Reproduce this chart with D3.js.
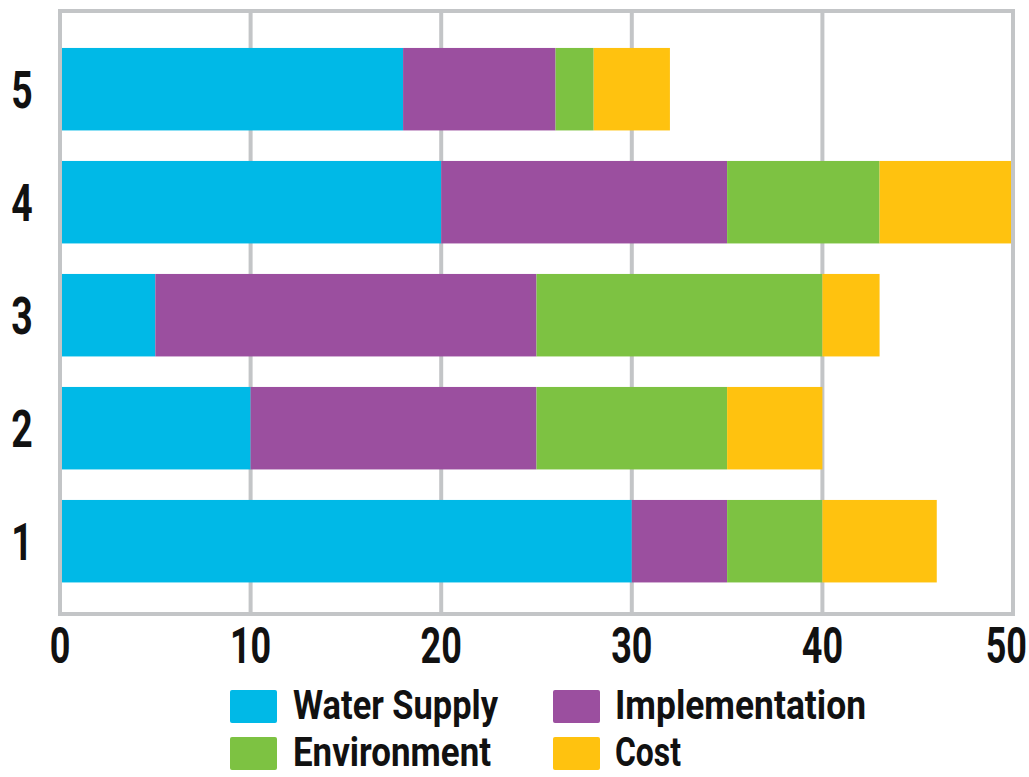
<!DOCTYPE html>
<html>
<head>
<meta charset="utf-8">
<script src="https://cdn.jsdelivr.net/npm/d3@7"></script>
<style>
  body { margin: 0; background: #fff; }
  text { font-family: "Liberation Sans Narrow", "Roboto", sans-serif; font-weight: bold; fill: #111; }
</style>
</head>
<body>
<svg width="1029" height="777"></svg>
<script>
// data
var categories = ["5", "4", "3", "2", "1"];
var seriesNames = ["Water Supply", "Implementation", "Environment", "Cost"];
var waterSupply    = [18, 20, 5, 10, 30];
var implementation = [8, 15, 20, 15, 5];
var environment    = [2, 8, 15, 10, 5];
var cost           = [4, 7, 3, 5, 6];
var xTicks = [0, 10, 20, 30, 40, 50];
var colors = ["#00b9e7", "#9b4f9f", "#7dc242", "#ffc20f"];

// build rows for the stack
var rows = categories.map(function (c, i) {
  return {
    cat: c,
    "Water Supply": waterSupply[i],
    "Implementation": implementation[i],
    "Environment": environment[i],
    "Cost": cost[i]
  };
});

var svg = d3.select("svg");

var x = d3.scaleLinear()
  .domain([0, 50])
  .range([60, 1013]);

var y = d3.scaleBand()
  .domain(categories)
  .range([32.7, 597.7])
  .paddingInner(0.27)
  .paddingOuter(0.135);

var color = d3.scaleOrdinal()
  .domain(seriesNames)
  .range(colors);

var plotTop = 11, plotBottom = 614;
var squeeze = 0.72; // labels in the picture are a condensed face

// grid lines behind the bars
svg.selectAll("line.grid")
  .data(xTicks.slice(1, -1))
  .enter()
  .append("line")
  .attr("class", "grid")
  .attr("x1", function (d) { return x(d); })
  .attr("x2", function (d) { return x(d); })
  .attr("y1", plotTop)
  .attr("y2", plotBottom)
  .attr("stroke", "#c3c5c7")
  .attr("stroke-width", 4);

// stacked bars
var stack = d3.stack().keys(seriesNames);
var layers = stack(rows);

svg.selectAll("g.layer")
  .data(layers)
  .enter()
  .append("g")
  .attr("class", "layer")
  .attr("fill", function (d) { return color(d.key); })
  .selectAll("rect")
  .data(function (d) { return d; })
  .enter()
  .append("rect")
  .attr("x", function (d) { return x(d[0]); })
  .attr("width", function (d) { return x(d[1]) - x(d[0]); })
  .attr("y", function (d) { return y(d.data.cat); })
  .attr("height", y.bandwidth());

// frame round the plot
svg.append("rect")
  .attr("x", x(0))
  .attr("y", plotTop)
  .attr("width", x(50) - x(0))
  .attr("height", plotBottom - plotTop)
  .attr("fill", "none")
  .attr("stroke", "#c3c5c7")
  .attr("stroke-width", 4);

// x tick labels (last one pulled in so it stays on the page)
svg.selectAll("text.xtick")
  .data(xTicks)
  .enter()
  .append("text")
  .attr("class", "xtick")
  .attr("transform", function (d, i) {
    var px = i === xTicks.length - 1 ? 1027 : x(d);
    return "translate(" + px + ",663) scale(" + squeeze + ",1)";
  })
  .attr("text-anchor", function (d, i) { return i === xTicks.length - 1 ? "end" : "middle"; })
  .style("font-size", "50px")
  .text(function (d) { return d; });

// y category labels
svg.selectAll("text.ytick")
  .data(categories)
  .enter()
  .append("text")
  .attr("class", "ytick")
  .attr("transform", function (d) {
    return "translate(22," + (y(d) + y.bandwidth() / 2 + 19) + ") scale(" + squeeze + ",1)";
  })
  .attr("text-anchor", "middle")
  .style("font-size", "52px")
  .text(function (d) { return d; });

// legend, two columns and two rows
var legendPos = [
  { sx: 230, sy: 690, tx: 293, w: 205 },
  { sx: 553, sy: 690, tx: 615, w: 251 },
  { sx: 230, sy: 737, tx: 293, w: 198 },
  { sx: 553, sy: 737, tx: 615, w: 66 }
];

var legend = svg.selectAll("g.legend")
  .data(seriesNames)
  .enter()
  .append("g")
  .attr("class", "legend");

legend.append("rect")
  .attr("x", function (d, i) { return legendPos[i].sx; })
  .attr("y", function (d, i) { return legendPos[i].sy; })
  .attr("width", 47)
  .attr("height", 33)
  .attr("rx", 2)
  .attr("fill", function (d) { return color(d); });

legend.append("text")
  .attr("x", function (d, i) { return legendPos[i].tx; })
  .attr("y", function (d, i) { return legendPos[i].sy + 29; })
  .attr("textLength", function (d, i) { return legendPos[i].w; })
  .attr("lengthAdjust", "spacingAndGlyphs")
  .style("font-size", "40px")
  .text(function (d) { return d; });
</script>
</body>
</html>
